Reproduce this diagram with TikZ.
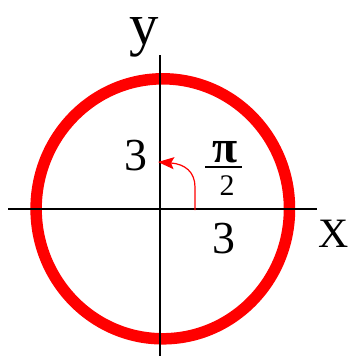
\documentclass[tikz,border=0pt]{standalone}
\usepackage{fontspec}
\setmainfont{Liberation Serif}
\usetikzlibrary{arrows.meta}
\tikzset{
  axis/.style={black, line width=1.3bp},
  ring/.style={red, line width=11.5bp},
  lbl/.style={inner sep=0pt, anchor=base, text=black},
}
\newcommand{\fsz}[1]{\fontsize{#1}{#1}\selectfont}
\begin{document}
\begin{tikzpicture}[x=1bp,y=-1bp]
\useasboundingbox (0,0) rectangle (352,356);
% circle
\draw[ring] (162.8,208.8) ellipse [x radius=126.7, y radius=130];
% axes
\coordinate (xl) at (8,209);
\coordinate (xr) at (317,209);
\coordinate (yt) at (160,55);
\coordinate (yb) at (160,356);
\draw[axis] (xl) -- (xr);
\draw[axis] (yt) -- (yb);
% labels
\node[lbl, text height=28bp] (ylab) at (144,44) {\fsz{59}y};
\node[lbl] (xlab) at (334,247) {\fsz{42}X};
\node[lbl] (three1) at (136,170) {\fsz{46}3};
\node[lbl] (three2) at (224,253) {\fsz{46}3};
\node[lbl] (pi) at (225,162) {\fsz{46}\bfseries π};
\node[lbl] (two) at (227,195) {\fsz{30}2};
\coordinate (barl) at (205,167);
\coordinate (barr) at (242,167);
\draw[line width=1.5bp] (barl) -- (barr);
% arrow
\coordinate (as) at (195,210);
\coordinate (am) at (195,187);
\coordinate (ae) at (158,162);
\draw[red, line width=1.2bp, -{Stealth[length=16bp,width=12bp,inset=3bp]}]
  (as) -- (am) .. controls (195,172) and (185,164) .. (ae);
\end{tikzpicture}
\end{document}
